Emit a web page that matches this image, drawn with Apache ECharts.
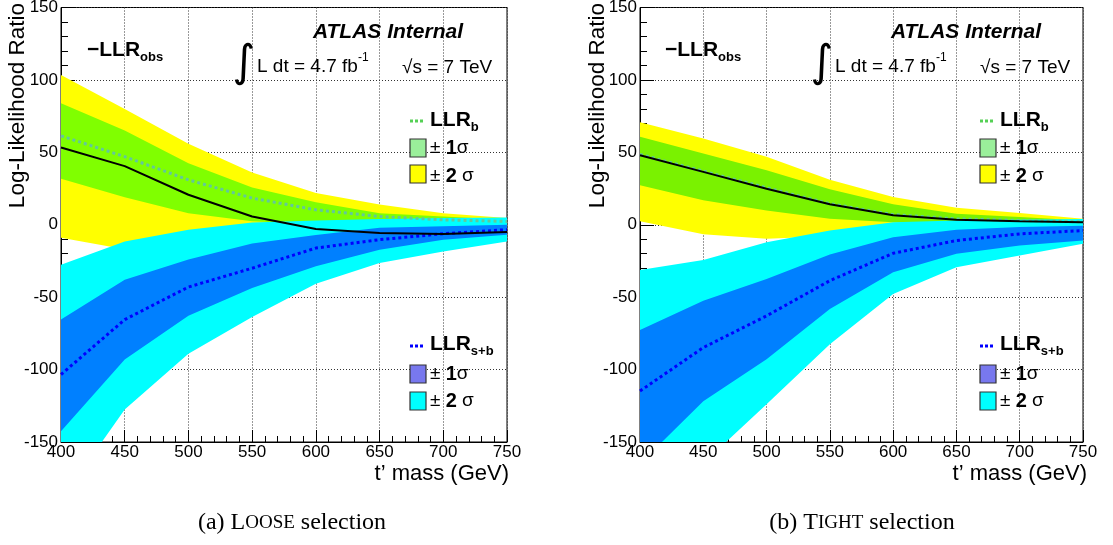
<!DOCTYPE html>
<html><head><meta charset="utf-8">
<script src="https://cdn.jsdelivr.net/npm/echarts@6/dist/echarts.min.js"></script>
<style>html,body{margin:0;padding:0;background:#fff}#c{width:1113px;height:545px}</style>
</head><body><div id="c"></div>
<script>
// t' mass points (GeV)
const masses = [400, 450, 500, 550, 600, 650, 700, 750];

// LOOSE selection
const looseObs    = [53.3, 40.5, 20.7, 5.7, -3.0, -5.7, -6.4, -5.0];
const looseB      = [61.4, 47.0, 31.0, 18.4, 10.3, 5.7, 3.4, 2.3];
const looseB1Up   = [83.9, 65.0, 42.5, 25.7, 15.6, 8.0, 5.7, 3.4];
const looseB1Dn   = [31.7, 19.0, 8.0, 2.5, 0.5, 0.0, 0.0, 0.0];
const looseB2Up   = [103.4, 80.0, 56.0, 36.0, 22.0, 14.0, 8.0, 4.6];
const looseB2Dn   = [-9.0, -17.0, -12.0, -6.0, -2.0, 0.0, 0.5, 1.0];
const looseSB     = [-103.4, -65.5, -43.0, -30.0, -16.1, -10.3, -6.2, -3.4];
const looseSB1Up  = [-65.5, -38.0, -24.0, -13.0, -7.0, -2.0, -1.0, 0.0];
const looseSB1Dn  = [-142.5, -93.0, -62.8, -43.7, -28.7, -17.2, -10.3, -6.9];
const looseSB2Up  = [-27.6, -11.5, -3.4, 1.6, 3.0, 3.9, 4.6, 5.0];
const looseSB2Dn  = [-190.0, -127.6, -89.0, -63.7, -40.7, -26.4, -18.4, -11.5];

// TIGHT selection
const tightObs    = [48.0, 36.5, 24.9, 14.1, 6.5, 3.5, 2.5, 1.8];
const tightB      = [48.5, 37.0, 25.5, 14.5, 7.0, 4.0, 3.0, 2.0];
const tightB1Up   = [60.7, 49.2, 37.6, 24.5, 14.1, 7.6, 5.3, 3.0];
const tightB1Dn   = [27.3, 16.9, 9.9, 4.2, 1.8, 1.2, 1.2, 1.2];
const tightB2Up   = [70.7, 59.6, 46.9, 31.0, 19.2, 11.8, 8.1, 4.2];
const tightB2Dn   = [2.5, -6.5, -9.7, -8.0, -4.0, -1.0, 0.0, 1.0];
const tightSB     = [-114.8, -84.8, -62.9, -38.6, -19.7, -10.9, -6.3, -4.0];
const tightSB1Up  = [-72.6, -52.5, -37.4, -20.6, -8.6, -3.5, -1.6, -0.7];
const tightSB1Dn  = [-165.0, -121.8, -92.9, -58.2, -32.8, -20.1, -14.3, -10.9];
const tightSB2Up  = [-31.2, -24.3, -12.0, -3.9, 1.8, 3.0, 3.5, 3.9];
const tightSB2Dn  = [-205.0, -164.6, -124.0, -82.5, -47.8, -29.4, -21.3, -13.2];

// axis ticks
const xMin = 400, xMax = 750, xStep = 50;
const yMin = -150, yMax = 150, yStep = 50;

const F = 'Liberation Sans, Arial, Helvetica, sans-serif';
const SERIF = 'Liberation Serif, Times New Roman, serif';

const panels = [
  {obs: looseObs, b: looseB, b1u: looseB1Up, b1d: looseB1Dn, b2u: looseB2Up, b2d: looseB2Dn,
   sb: looseSB, sb1u: looseSB1Up, sb1d: looseSB1Dn, sb2u: looseSB2Up, sb2d: looseSB2Dn, green: '#80ff00'},
  {obs: tightObs, b: tightB, b1u: tightB1Up, b1d: tightB1Dn, b2u: tightB2Up, b2d: tightB2Dn,
   sb: tightSB, sb1u: tightSB1Up, sb1d: tightSB1Dn, sb2u: tightSB2Up, sb2d: tightSB2Dn, green: '#7af200'}
];

function pairs(arr) { return masses.map((m, i) => [m, arr[i]]); }

// band between lo and hi, drawn as one polygon through the axis scales
function band(idx, lo, hi, color) {
  return {
    type: 'custom', xAxisIndex: idx, yAxisIndex: idx, clip: true, silent: true, animation: false, z: 2,
    data: masses.map((m, i) => [m, lo[i], hi[i]]),
    encode: {x: 0, y: [1, 2]},
    renderItem: function (params, api) {
      if (params.dataIndex !== 0) return null;
      const pts = [];
      for (let i = 0; i < masses.length; i++) pts.push(api.coord([masses[i], hi[i]]));
      for (let i = masses.length - 1; i >= 0; i--) pts.push(api.coord([masses[i], lo[i]]));
      return {type: 'polygon', shape: {points: pts}, style: {fill: color, stroke: null}};
    }
  };
}

function line(idx, arr, color, width, type) {
  return {type: 'line', xAxisIndex: idx, yAxisIndex: idx, data: pairs(arr), symbol: 'none',
    silent: true, animation: false, clip: true, z: 3,
    lineStyle: {color: color, width: width, type: type, cap: 'butt'}};
}

let series = [];
panels.forEach((p, i) => {
  series.push(band(i, p.b2d, p.b2u, '#ffff00'));
  series.push(band(i, p.b1d, p.b1u, p.green));
  series.push(band(i, p.sb2d, p.sb2u, '#00ffff'));
  series.push(band(i, p.sb1d, p.sb1u, '#0080ff'));
  series.push(line(i, p.b, '#62c89a', 3, [3, 3]));
  series.push(line(i, p.sb, '#0000ff', 3, [3, 3]));
  series.push(line(i, p.obs, '#000000', 2, 'solid'));
});

const grids = [
  {left: 61, top: 7.5, width: 446, height: 434.5},
  {left: 640, top: 7.5, width: 443, height: 434.5}
].map(g => Object.assign(g, {show: true, borderColor: '#000', borderWidth: 1, backgroundColor: 'transparent',
  containLabel: false, outerBoundsMode: 'none', z: 0}));

const xAxes = [0, 1].map(i => ({
  gridIndex: i, type: 'value', min: xMin, max: xMax, interval: xStep,
  axisLine: {show: true, onZero: false, lineStyle: {color: '#000', width: 1}},
  axisTick: {show: true, inside: true, length: 12, lineStyle: {color: '#000'}},
  minorTick: {show: true, splitNumber: 5, length: 6, lineStyle: {color: '#000'}},
  axisLabel: {fontSize: 17, color: '#000', margin: 2, fontFamily: F, showMinLabel: true, showMaxLabel: true, hideOverlap: false},
  splitLine: {show: true, lineStyle: {type: [1, 2], color: '#333', width: 1}},
  z: 1
}));
const yAxes = [0, 1].map(i => ({
  gridIndex: i, type: 'value', min: yMin, max: yMax, interval: yStep,
  axisLine: {show: true, onZero: false, lineStyle: {color: '#000', width: 1}},
  axisTick: {show: true, inside: true, length: 14, lineStyle: {color: '#000'}},
  minorTick: {show: true, splitNumber: 5, length: 7, lineStyle: {color: '#000'}},
  axisLabel: {fontSize: 17, color: '#000', margin: 3, fontFamily: F, showMinLabel: true, showMaxLabel: true, hideOverlap: false},
  splitLine: {show: true, lineStyle: {type: [1, 2], color: '#333', width: 1}},
  z: 1
}));

function txt(x, y, text, o) {
  return {type: 'text', x: x, y: y, z: 100, silent: true,
    style: Object.assign({text: text, fill: '#000', fontFamily: F, fontSize: 18, align: 'left', verticalAlign: 'middle'}, o || {})};
}
function rect(x, y, w, h, fill) {
  return {type: 'rect', z: 100, silent: true, shape: {x: x, y: y, width: w, height: h},
    style: {fill: fill, stroke: '#333', lineWidth: 1.2}};
}
function dots(x1, x2, y, color) {
  return {type: 'line', z: 100, silent: true, shape: {x1: x1, y1: y, x2: x2, y2: y},
    style: {stroke: color, lineWidth: 3, lineDash: [3, 2]}};
}
const sigRich = {n: {fontSize: 19, fontFamily: F}, b: {fontSize: 20, fontWeight: 'bold', fontFamily: F}};
const subRich = {
  a: {fontSize: 21, fontWeight: 'bold', fontFamily: F, lineHeight: 28},
  s: {fontSize: 13, fontWeight: 'bold', fontFamily: F, verticalAlign: 'bottom'}
};
const supRich = {
  a: {fontSize: 19, fontFamily: F, lineHeight: 30},
  p: {fontSize: 12, fontFamily: F, verticalAlign: 'top'}
};

let graphics = [];
[{hx: 0, lx: 0, gx: 18, ax: 509, cx: 292, cap: '{n|(a) L}{s|OOSE}{n| selection}', g1: '#9aef9a', s1: '#7878ee'},
 {hx: 578, lx: 570, gx: 598, ax: 1087, cx: 862, cap: '{n|(b) T}{s|IGHT}{n| selection}', g1: '#9aef9a', s1: '#7878ee'}]
.forEach(p => {
  graphics.push(txt(463 + p.hx, 32, 'ATLAS Internal', {align: 'right', fontSize: 21, fontWeight: 'bold', fontStyle: 'italic'}));
  graphics.push(txt(87 + p.hx, 50, '{a|\u2212LLR}{s|obs}', {rich: subRich}));
  graphics.push(txt(244 + p.hx, 65, '\u222B', {align: 'center', fontSize: 44, fontFamily: 'DejaVu Sans'}));
  graphics.push(txt(257 + p.hx, 67, '{a|L dt = 4.7 fb}{p|-1}', {rich: supRich}));
  graphics.push(txt(402 + p.hx, 68, '\u221As = 7 TeV', {fontSize: 19}));
  // legend b
  graphics.push(dots(410 + p.lx, 425 + p.lx, 121, '#55d055'));
  graphics.push(txt(430 + p.lx, 120, '{a|LLR}{s|b}', {rich: subRich}));
  graphics.push(rect(410 + p.lx, 139, 16, 18, p.g1));
  graphics.push(txt(430 + p.lx, 148, '{n|\u00B1 }{b|1}{n|\u03C3}', {rich: sigRich}));
  graphics.push(rect(410 + p.lx, 165, 16, 18, '#ffff00'));
  graphics.push(txt(430 + p.lx, 176, '{n|\u00B1 }{b|2}{n| \u03C3}', {rich: sigRich}));
  // legend s+b
  graphics.push(dots(410 + p.lx, 425 + p.lx, 346, '#0000ff'));
  graphics.push(txt(430 + p.lx, 344, '{a|LLR}{s|s+b}', {rich: subRich}));
  graphics.push(rect(410 + p.lx, 365, 16, 18, p.s1));
  graphics.push(txt(430 + p.lx, 374, '{n|\u00B1 }{b|1}{n|\u03C3}', {rich: sigRich}));
  graphics.push(rect(410 + p.lx, 392, 16, 18, '#00ffff'));
  graphics.push(txt(430 + p.lx, 401, '{n|\u00B1 }{b|2}{n| \u03C3}', {rich: sigRich}));
  // axis titles
  const yt = txt(0, 0, 'Log-Likelihood Ratio', {fontSize: 22.5, align: 'right'});
  yt.x = p.gx; yt.y = 3; yt.rotation = Math.PI / 2;
  graphics.push(yt);
  graphics.push(txt(p.ax, 474, 't\u2019 mass (GeV)', {fontSize: 22, align: 'right'}));
  // caption
  graphics.push(txt(p.cx, 523, p.cap, {align: 'center', fontFamily: SERIF,
    rich: {n: {fontSize: 24, fontFamily: SERIF}, s: {fontSize: 19, fontFamily: SERIF}}}));
});

const chart = echarts.init(document.getElementById('c'), null, {renderer: 'canvas'});
chart.setOption({
  backgroundColor: '#fff',
  animation: false,
  grid: grids,
  xAxis: xAxes,
  yAxis: yAxes,
  series: series,
  graphic: graphics
});
</script>
</body></html>
